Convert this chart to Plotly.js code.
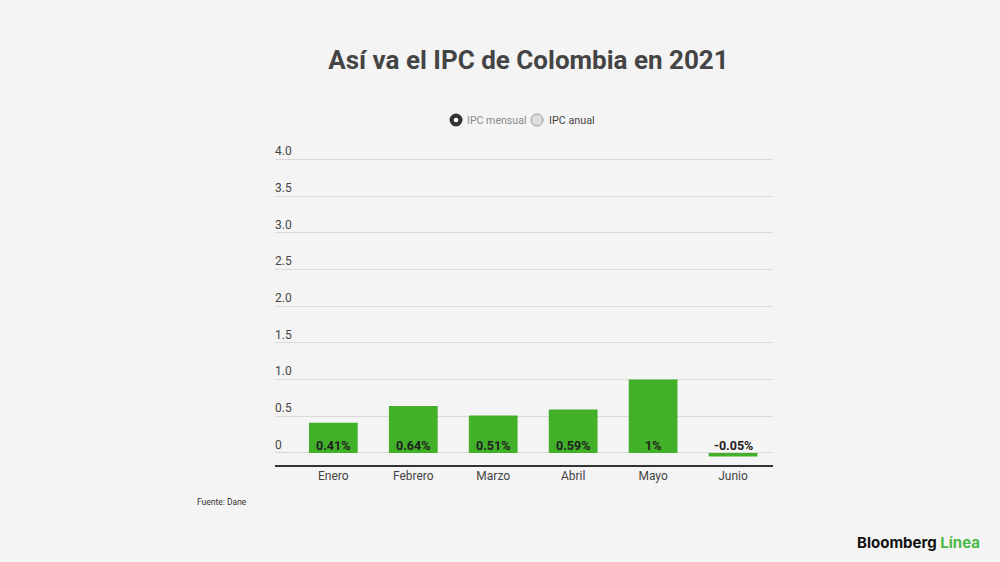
<!DOCTYPE html>
<html>
<head>
<meta charset="utf-8">
<script src="https://cdn.plot.ly/plotly-3.0.1.min.js"></script>
<style>
  html, body { margin: 0; padding: 0; background: #f4f4f4; }
  #chart { width: 1000px; height: 562px; }
</style>
</head>
<body>
<div id="chart"></div>
<script>
// IPC mensual, Colombia 2021 (%)
const months = ["Enero", "Febrero", "Marzo", "Abril", "Mayo", "Junio"];
const ipcMensual = [0.41, 0.64, 0.51, 0.59, 1.00, -0.05];
const barLabels = ["0.41%", "0.64%", "0.51%", "0.59%", "1%", "-0.05%"];
const yTicks = [0, 0.5, 1, 1.5, 2, 2.5, 3, 3.5, 4];
const yTickText = ["0", "0.5", "1.0", "1.5", "2.0", "2.5", "3.0", "3.5", "4.0"];
const legendNames = ["IPC mensual", "IPC anual"];

const green = "#43b02a";
const dark = "#444444";
const font = "Roboto, 'Open Sans', sans-serif";

const traces = [{
  type: "bar", x: months, y: ipcMensual, width: 0.61,
  marker: {color: green, line: {width: 0}},
  hoverinfo: "x+y", showlegend: false
}];

// value labels sit on the zero line inside each bar
const annotations = months.map((m, i) => ({
  x: m, y: 0, xref: "x", yref: "y", yanchor: "bottom", yshift: -2,
  text: "<b>" + barLabels[i] + "</b>", showarrow: false,
  font: {family: font, size: 12.5, color: "#1e1e1e"}
}));

// radio-style legend (drawn by hand, Plotly's legend spacing is too wide)
const legY = 1.0648;
annotations.push({
  xref: "paper", yref: "paper", x: 0.3815, y: legY, xanchor: "left", yanchor: "middle",
  text: legendNames[0], showarrow: false, font: {family: font, size: 10.6, color: "#8a8a8a"}
});
annotations.push({
  xref: "paper", yref: "paper", x: 0.546, y: legY, xanchor: "left", yanchor: "middle",
  text: legendNames[1], showarrow: false, font: {family: font, size: 10.8, color: dark}
});
const dot = (xc, r, fill, line) => ({
  type: "circle", xref: "paper", yref: "paper",
  xsizemode: "pixel", ysizemode: "pixel", xanchor: xc, yanchor: legY,
  x0: -r, x1: r, y0: -r, y1: r,
  fillcolor: fill, line: line
});
const shapes = [
  dot(0.3635, 6.5, "#333333", {width: 0}),
  dot(0.3635, 2.3, "#ffffff", {width: 0}),
  dot(0.5261, 6, "#dedede", {color: "#9a9a9a", width: 1})
];

annotations.push({
  xref: "paper", yref: "paper", x: -0.161, y: -0.1142, xanchor: "left", yanchor: "middle",
  text: "Fuente: Dane", showarrow: false,
  font: {family: font, size: 8.5, color: "#333333"}
});
annotations.push({
  xref: "paper", yref: "paper", x: 1.42, y: -0.2377, xanchor: "right", yanchor: "middle",
  text: "<b><span style='color:#111111'>Bloomberg</span> <span style='color:#4cb946'>Línea</span></b>",
  showarrow: false,
  font: {family: "Inter, Roboto, sans-serif", size: 15}
});

const layout = {
  width: 1000, height: 562,
  paper_bgcolor: "#f4f4f4", plot_bgcolor: "#f4f4f4",
  margin: {l: 275, r: 227, t: 141, b: 97},
  font: {family: font, color: dark},
  title: {
    text: "<b>Así va el IPC de Colombia en 2021</b>",
    font: {family: font, size: 26, color: dark},
    x: 0.509, xanchor: "center", xref: "paper",
    y: 0.893, yanchor: "middle", yref: "container"
  },
  showlegend: false,
  xaxis: {
    type: "category", range: [-0.73, 5.5], fixedrange: true,
    showgrid: false, zeroline: false,
    showline: true, linecolor: "#333333", linewidth: 1.5,
    ticks: "", ticklabelstandoff: -1,
    tickfont: {family: font, size: 12, color: dark}
  },
  yaxis: {
    range: [-0.165, 4.25], fixedrange: true,
    tickvals: yTicks, ticktext: yTickText,
    ticklabelposition: "inside top", ticklabelstandoff: -3,
    tickfont: {family: font, size: 12, color: dark},
    showgrid: true, gridcolor: "#dadada", gridwidth: 1,
    zeroline: false, showline: false, ticks: ""
  },
  shapes,
  annotations
};

Plotly.newPlot("chart", traces, layout, {displayModeBar: false, staticPlot: true});
</script>
</body>
</html>
